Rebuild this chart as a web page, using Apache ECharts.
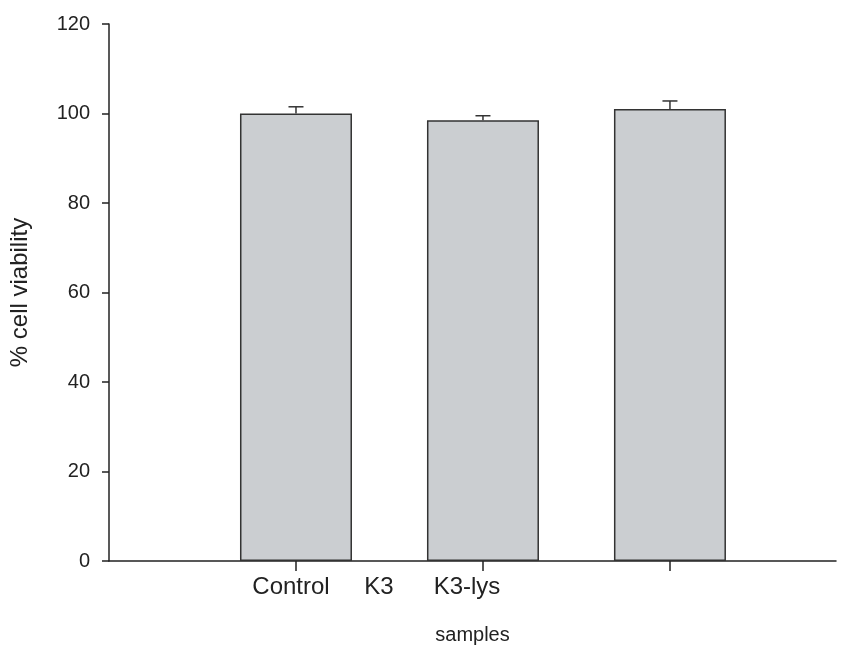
<!DOCTYPE html>
<html>
<head>
<meta charset="utf-8">
<script src="https://cdn.jsdelivr.net/npm/echarts@6/dist/echarts.min.js"></script>
<style>
html,body{margin:0;padding:0;background:#fff;}
#chart{width:851px;height:647px;}
</style>
</head>
<body>
<div id="chart"></div>
<script>
const categories = ['Control', 'K3', 'K3-lys'];
const viability = [100.0, 98.5, 101.0];
const errorUp = [1.5, 1.0, 1.8];
const yTicks = [0, 20, 40, 60, 80, 100, 120];

const FONT = '"Liberation Sans", Arial, sans-serif';
const INK = '#222';

const barData = viability.map((v, i) => [i + 1, v]);
const errData = viability.map((v, i) => [i + 1, v, v + errorUp[i]]);

const chart = echarts.init(document.getElementById('chart'));
chart.setOption({
  animation: false,
  backgroundColor: '#fff',
  grid: [
    { left: 109, right: 15, top: 24, bottom: 86, outerBoundsMode: 'none', containLabel: false },
    { left: 247, width: 264, top: 24, bottom: 86, outerBoundsMode: 'none', containLabel: false }
  ],
  xAxis: [
    {
      type: 'value', gridIndex: 0, min: 0, max: 3.888,
      name: 'samples', nameLocation: 'middle', nameGap: 64,
      nameTextStyle: { fontFamily: FONT, fontSize: 20, color: INK },
      axisLine: { show: true, lineStyle: { color: INK, width: 1.5 } },
      axisTick: { show: true, length: 10, customValues: [1, 2, 3], lineStyle: { color: INK, width: 1.5 } },
      axisLabel: { show: false },
      splitLine: { show: false }
    },
    {
      type: 'category', gridIndex: 1, data: categories, boundaryGap: true,
      axisLine: { show: false }, axisTick: { show: false },
      axisLabel: { interval: 0, hideOverlap: false, margin: 14, fontFamily: FONT, fontSize: 24, color: INK },
      splitLine: { show: false }
    }
  ],
  yAxis: [
    {
      type: 'value', gridIndex: 0, min: yTicks[0], max: yTicks[yTicks.length - 1], interval: 20,
      name: '% cell viability', nameLocation: 'middle', nameGap: 77,
      nameTextStyle: { fontFamily: FONT, fontSize: 24, color: INK },
      axisLine: { show: true, lineStyle: { color: INK, width: 1.5 } },
      axisTick: { show: true, length: 7, lineStyle: { color: INK, width: 1.5 } },
      axisLabel: { margin: 19, fontFamily: FONT, fontSize: 20, color: INK },
      splitLine: { show: false }
    },
    { type: 'value', gridIndex: 1, min: 0, max: 120, show: false }
  ],
  series: [
    {
      type: 'bar', xAxisIndex: 0, yAxisIndex: 0, data: barData, barWidth: 112,
      itemStyle: { color: '#cbced1', borderColor: '#333', borderWidth: 1.5 },
      z: 2
    },
    {
      type: 'custom', xAxisIndex: 0, yAxisIndex: 0, data: errData, z: 3,
      renderItem: function (params, api) {
        const x = api.value(0);
        const base = api.coord([x, api.value(1)]);
        const top = api.coord([x, api.value(2)]);
        const half = 7.5;
        return {
          type: 'group',
          children: [
            { type: 'line', shape: { x1: base[0], y1: base[1], x2: top[0], y2: top[1] }, style: { stroke: '#333', lineWidth: 1.5 } },
            { type: 'line', shape: { x1: top[0] - half, y1: top[1], x2: top[0] + half, y2: top[1] }, style: { stroke: '#333', lineWidth: 1.5 } }
          ]
        };
      }
    }
  ]
});
</script>
</body>
</html>
